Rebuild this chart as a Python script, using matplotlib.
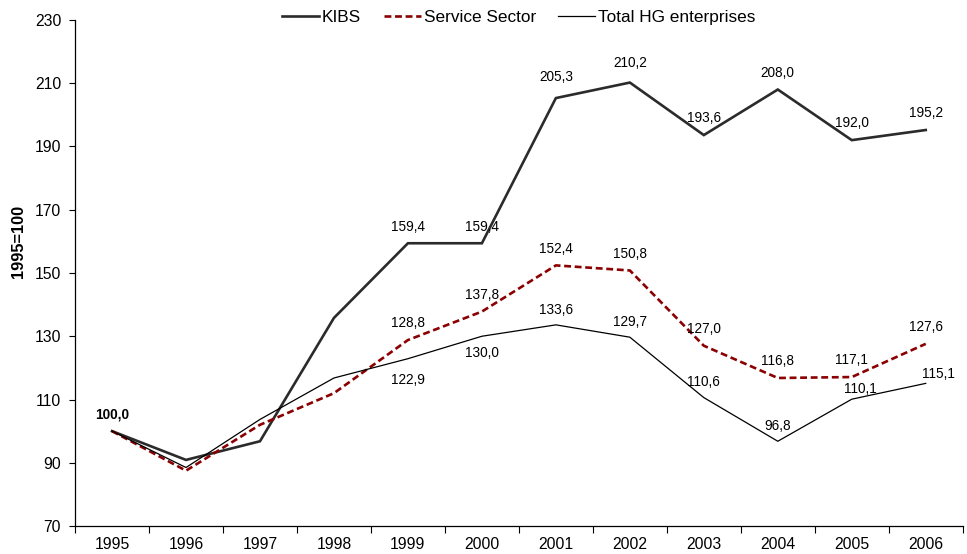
import matplotlib
matplotlib.use("Agg")
import matplotlib.pyplot as plt
from matplotlib.ticker import FixedLocator

plt.rcParams['font.family'] = ['Liberation Sans', 'DejaVu Sans']

years = ["1995", "1996", "1997", "1998", "1999", "2000",
         "2001", "2002", "2003", "2004", "2005", "2006"]
kibs = [100.0, 90.9, 96.8, 135.8, 159.4, 159.4, 205.3, 210.2, 193.6, 208.0, 192.0, 195.2]
service = [100.0, 87.5, 102.0, 112.0, 128.8, 137.8, 152.4, 150.8, 127.0, 116.8, 117.1, 127.6]
total = [100.0, 88.5, 103.7, 116.8, 122.9, 130.0, 133.6, 129.7, 110.6, 96.8, 110.1, 115.1]
yticks = [70, 90, 110, 130, 150, 170, 190, 210, 230]

# which points get a value label
labelled = [True, False, False, False, True, True, True, True, True, True, True, True]

fig = plt.figure(figsize=(9.67, 5.54), dpi=100)
ax = fig.add_axes([0.0776, 0.0505, 0.918, 0.9135])

x = list(range(len(years)))
ax.plot(x, kibs, color="#2b2b2b", lw=1.9, label="KIBS", solid_joinstyle="miter")
ax.plot(x, service, color="#8b0000", lw=1.9, ls=(0, (2.6, 1.4)), label="Service Sector")
ax.plot(x, total, color="black", lw=0.9, label="Total HG enterprises")

def fmt(v):
    return f"{v:.1f}".replace(".", ",")

# label offsets in points (dx, dy)
kibs_off = [(0, 12)] * 12
kibs_off[6] = (0, 15)
kibs_off[7] = (0, 14)
serv_off = [(0, 12)] * 12
tot_off = [(0, 11)] * 12
tot_off[4] = (0, -15)
tot_off[5] = (0, -12)
tot_off[10] = (6, 7)
tot_off[11] = (9, 7)

for series, offs in ((kibs, kibs_off), (service, serv_off), (total, tot_off)):
    for i, v in enumerate(series):
        if not labelled[i]:
            continue
        if i == 0 and series is not kibs:
            continue
        ax.annotate(fmt(v), (i, v), xytext=offs[i], textcoords="offset points",
                    ha="center", va="center", fontsize=9.8,
                    fontweight="bold" if i == 0 else "normal")

ax.set_xlim(-0.5, len(years) - 0.5)
ax.set_ylim(70, 230)
ax.set_yticks(yticks)
ax.set_xticks(x)
ax.set_xticklabels(years)
ax.xaxis.set_minor_locator(FixedLocator([i - 0.5 for i in range(len(years) + 1)]))
ax.tick_params(axis="x", which="major", length=0, pad=8, labelsize=11.3)
ax.tick_params(axis="x", which="minor", length=5, width=0.8, direction="out")
ax.tick_params(axis="y", length=4, width=0.8, direction="out", labelsize=11.3, pad=6)

for s in ("top", "right"):
    ax.spines[s].set_visible(False)
for s in ("left", "bottom"):
    ax.spines[s].set_linewidth(0.9)

ax.set_ylabel("1995=100", fontsize=11.8, fontweight="bold")
ax.yaxis.set_label_coords(-0.055, 0.563)

ax.legend(loc="upper center", bbox_to_anchor=(0.5, 1.05), ncol=3, frameon=False,
          fontsize=12.4, handlelength=2.15, handletextpad=0.18, columnspacing=1.3)

fig.savefig("out.png", dpi=100)
